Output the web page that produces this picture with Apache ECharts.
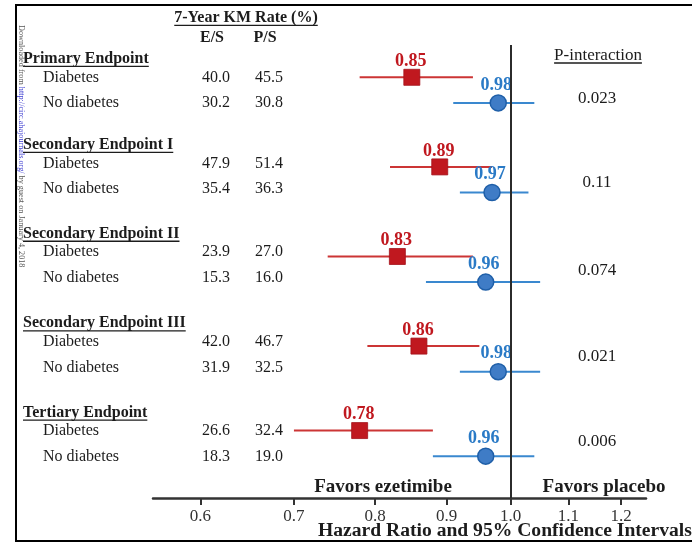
<!DOCTYPE html>
<html>
<head>
<meta charset="utf-8">
<script src="https://cdn.jsdelivr.net/npm/echarts@6/dist/echarts.min.js"></script>
<style>
  html, body { margin: 0; padding: 0; background: #fff; }
  #chart { width: 692px; height: 543px; }
</style>
</head>
<body>
<div id="chart"></div>
<script>
// ---- data ----
const endpoints = ['Primary Endpoint', 'Secondary Endpoint I', 'Secondary Endpoint II', 'Secondary Endpoint III', 'Tertiary Endpoint'];
const subgroups = ['Diabetes', 'No diabetes'];
const kmES_diabetes = [40.0, 47.9, 23.9, 42.0, 26.6];
const kmPS_diabetes = [45.5, 51.4, 27.0, 46.7, 32.4];
const kmES_noDiabetes = [30.2, 35.4, 15.3, 31.9, 18.3];
const kmPS_noDiabetes = [30.8, 36.3, 16.0, 32.5, 19.0];
const hrDiabetes = [0.85, 0.89, 0.83, 0.86, 0.78];
const loDiabetes = [0.78, 0.82, 0.74, 0.79, 0.70];
const hiDiabetes = [0.94, 0.97, 0.94, 0.95, 0.88];
const hrNoDiabetes = [0.98, 0.97, 0.96, 0.98, 0.96];
const loNoDiabetes = [0.91, 0.92, 0.87, 0.92, 0.88];
const hiNoDiabetes = [1.04, 1.03, 1.05, 1.05, 1.04];
const pInteraction = ['0.023', '0.11', '0.074', '0.021', '0.006'];
const xTicks = [0.6, 0.7, 0.8, 0.9, 1.0, 1.1, 1.2];

// ---- layout ----
const SERIF = '"Liberation Serif", "Times New Roman", serif';
const RED = '#c0181f', RED_LINE = '#cc3535';
const BLUE = '#2a7ac6', BLUE_LINE = '#3a88cf';
const TEXT = '#1c1c1c';
const groupStart = [0, 3.5, 7, 10.5, 13.8];
const rowDiab = groupStart.map(g => g);
const rowNoDiab = groupStart.map(g => g + 1);
const textShift = [0.1, -0.04, -0.07, -0.07, 0.12];
const pRowOffset = [0.82, 0.62, 0.55, 0.41, 0.43];

const chart = echarts.init(document.getElementById('chart'), null, { renderer: 'canvas' });
const ln = Math.log;

function ciSeries(lo, hi, rows, color) {
  return {
    type: 'custom',
    silent: true,
    z: 2,
    encode: { x: [0, 1], y: 2 },
    data: lo.map((l, i) => [ln(l), ln(hi[i]), rows[i]]),
    renderItem: (params, api) => {
      const a = api.coord([api.value(0), api.value(2)]);
      const b = api.coord([api.value(1), api.value(2)]);
      return {
        type: 'line',
        shape: { x1: a[0], y1: a[1], x2: b[0], y2: b[1] },
        style: { stroke: color, lineWidth: 2 }
      };
    }
  };
}

const option = {
  animation: false,
  backgroundColor: '#fff',
  grid: { left: 153, right: 46, top: 45, bottom: 45, containLabel: false },
  xAxis: {
    type: 'value',
    min: ln(0.555),
    max: ln(1.25),
    axisLine: { show: true, onZero: false, lineStyle: { color: '#333', width: 2.5 } },
    axisTick: { show: true, length: 7, customValues: xTicks.map(ln), lineStyle: { color: '#333', width: 2 } },
    axisLabel: {
      show: true, margin: 10, customValues: xTicks.map(ln),
      formatter: v => Math.exp(v).toFixed(1),
      fontFamily: SERIF, fontSize: 17, color: '#333'
    },
    splitLine: { show: false }
  },
  yAxis: {
    type: 'value', inverse: true, min: -1.262, max: 16.434, show: false
  },
  series: [
    ciSeries(loDiabetes, hiDiabetes, rowDiab, RED_LINE),
    ciSeries(loNoDiabetes, hiNoDiabetes, rowNoDiab, BLUE_LINE),
    {
      type: 'scatter',
      z: 4,
      symbol: 'rect',
      symbolSize: 16,
      itemStyle: { color: RED, opacity: 1, borderColor: '#a3121a', borderWidth: 0.8 },
      data: hrDiabetes.map((h, i) => [ln(h), rowDiab[i], h]),
      label: {
        show: true, position: 'inside', offset: [-1, -16],
        formatter: p => p.data[2].toFixed(2),
        fontFamily: SERIF, fontWeight: 'bold', fontSize: 18, color: RED
      },
      markLine: {
        silent: true, symbol: 'none',
        lineStyle: { color: '#2b2b2b', width: 2, type: 'solid', opacity: 1 },
        label: { show: false },
        data: [{ xAxis: 0 }]
      }
    },
    {
      type: 'scatter',
      z: 4,
      symbol: 'circle',
      symbolSize: 16,
      itemStyle: { color: '#3f7cc6', opacity: 1, borderColor: '#1f5fa8', borderWidth: 1.5 },
      data: hrNoDiabetes.map((h, i) => [ln(h), rowNoDiab[i], h]),
      label: {
        show: true, position: 'inside', offset: [-2, -18],
        formatter: p => p.data[2].toFixed(2),
        fontFamily: SERIF, fontWeight: 'bold', fontSize: 18, color: BLUE
      }
    }
  ]
};
chart.setOption(option);

// ---- table text, headings and frame ----
const measureCtx = document.createElement('canvas').getContext('2d');
function textWidth(t, font) { measureCtx.font = font; return measureCtx.measureText(t).width; }
const yPx = v => chart.convertToPixel({ yAxisIndex: 0 }, v);

const g = [];
function txt(text, x, y, opts) {
  opts = opts || {};
  const size = opts.size || 16, weight = opts.weight || 'normal', align = opts.align || 'left';
  g.push({
    type: 'text', x: x, y: y, z: 10, silent: true,
    style: {
      text: text, fontFamily: SERIF, fontSize: size, fontWeight: weight,
      fill: opts.color || TEXT, align: align, verticalAlign: 'middle',
      textAlign: align, textVerticalAlign: 'middle'
    }
  });
  if (opts.underline) {
    const w = textWidth(text, weight + ' ' + size + 'px ' + SERIF);
    const x0 = align === 'center' ? x - w / 2 : (align === 'right' ? x - w : x);
    const uy = y + size * 0.47;
    g.push({ type: 'line', z: 10, silent: true,
      shape: { x1: x0, y1: uy, x2: x0 + w, y2: uy },
      style: { stroke: TEXT, lineWidth: 1.3 } });
  }
}

const X_HEAD = 23, X_SUB = 43, X_ES = 216, X_PS = 269, X_P = 598;

txt('7-Year KM Rate (%)', 246, yPx(-2.32), { weight: 'bold', align: 'center', underline: true });
txt('E/S', 212, yPx(-1.54), { weight: 'bold', align: 'center' });
txt('P/S', 265, yPx(-1.54), { weight: 'bold', align: 'center' });
txt('P-interaction', X_P, yPx(-0.87), { size: 17, align: 'center', underline: true });

endpoints.forEach((name, i) => {
  const s = textShift[i];
  const yHead = yPx(rowDiab[i] - 0.82 + s);
  const y0 = yPx(rowDiab[i] - 0.1 + s);
  const y1 = yPx(rowNoDiab[i] - 0.1 + s);
  txt(name, X_HEAD, yHead, { weight: 'bold', underline: true });
  txt(subgroups[0], X_SUB, y0);
  txt(subgroups[1], X_SUB, y1);
  txt(kmES_diabetes[i].toFixed(1), X_ES, y0, { align: 'center' });
  txt(kmPS_diabetes[i].toFixed(1), X_PS, y0, { align: 'center' });
  txt(kmES_noDiabetes[i].toFixed(1), X_ES, y1, { align: 'center' });
  txt(kmPS_noDiabetes[i].toFixed(1), X_PS, y1, { align: 'center' });
  txt(pInteraction[i], X_P - 1, yPx(rowDiab[i] + pRowOffset[i]), { size: 17, align: 'center' });
});

// favour annotations and axis title
const axisY = chart.convertToPixel({ yAxisIndex: 0 }, 16.434);
txt('Favors ezetimibe', 383, axisY - 11, { size: 19, weight: 'bold', align: 'center' });
txt('Favors placebo', 604, axisY - 11, { size: 19, weight: 'bold', align: 'center' });
txt('Hazard Ratio and 95% Confidence Intervals', 318, axisY + 33, { size: 19.6, weight: 'bold' });

// outer frame
g.push({ type: 'rect', z: 11, silent: true,
  shape: { x: 16, y: 5, width: 700, height: 536 },
  style: { fill: 'none', stroke: '#000', lineWidth: 2 } });

// vertical download stamp along the left edge
g.push({
  type: 'text', x: 21, y: 25, rotation: -Math.PI / 2, z: 12, silent: true,
  style: {
    text: '{g|Downloaded from }{b|http://circ.ahajournals.org/}{g| by guest on January 4, 2018}',
    align: 'left', verticalAlign: 'middle', textAlign: 'left', textVerticalAlign: 'middle',
    rich: {
      g: { fontFamily: SERIF, fontSize: 8.2, fill: '#555', color: '#555' },
      b: { fontFamily: SERIF, fontSize: 8.2, fill: '#3b3bd0', color: '#3b3bd0' }
    }
  }
});

chart.setOption({ graphic: g });
</script>
</body>
</html>
